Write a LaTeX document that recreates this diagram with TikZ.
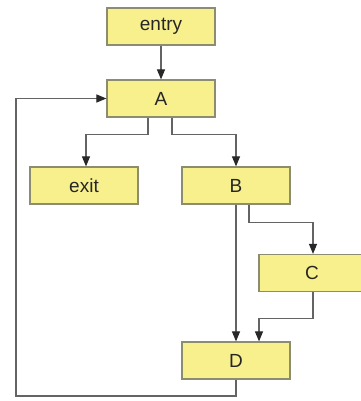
\documentclass[tikz,border=0pt]{standalone}
\usepackage{fontspec}
\setmainfont{Liberation Sans}
\usetikzlibrary{arrows.meta}
\definecolor{boxfill}{RGB}{248,240,140}
\definecolor{boxline}{RGB}{140,140,110}
\definecolor{conn}{RGB}{100,100,100}
\definecolor{tip}{RGB}{40,40,40}
\begin{document}
\begin{tikzpicture}[x=1pt,y=-1pt,
  blk/.style={draw=boxline,fill=boxfill,line width=1.2pt,minimum width=108pt,minimum height=37pt,inner sep=0pt,text=black!85,font=\fontsize{19}{21}\selectfont},
  arr/.style={draw=conn,line width=1.1pt,-{Triangle[length=10pt,width=8pt,color=tip]}}]
\useasboundingbox[fill=white] (0,0) rectangle (360,401);
\node[blk] (entry) at (161,26.5) {entry};
\node[blk] (A) at (161,98.5) {A};
\node[blk] (exit) at (84,185.5) {exit};
\node[blk] (B) at (236,185.5) {B};
\node[blk,minimum width=106pt] (C) at (312,273) {C};
\node[blk] (D) at (236,360.5) {D};
\coordinate (lp) at (16,396);
\draw[arr] (entry.south) -- (A.north);
\draw[arr] ([xshift=-13pt]A.south) -- ++(0,17) -| ([xshift=2pt]exit.north);
\draw[arr] ([xshift=11pt]A.south) -- ++(0,17) -| (B.north);
\draw[arr] (B.south) -- (D.north);
\draw[arr] ([xshift=13pt]B.south) -- ++(0,18) -| ([xshift=1pt]C.north);
\draw[arr] ([xshift=1pt]C.south) -- ++(0,26) -| ([xshift=23pt]D.north);
\draw[arr] (D.south) |- (lp) |- (A.west);
\end{tikzpicture}
\end{document}
